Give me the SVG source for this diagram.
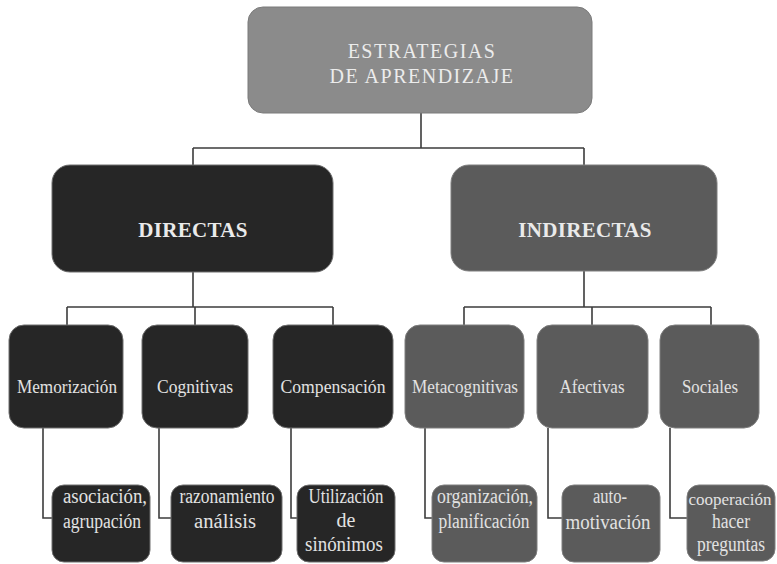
<svg xmlns="http://www.w3.org/2000/svg" width="777" height="564" viewBox="0 0 777 564">
<style>
.bg{fill:#ffffff}
.top{fill:#8b8b8b;stroke:#7a7a7a;stroke-width:1}
.dark{fill:#262626;stroke:#6e6e6e;stroke-width:1}
.mid{fill:#5b5b5b;stroke:#7e7e7e;stroke-width:1}
.conn{fill:none;stroke:#3c3c3c;stroke-width:1.6}
text{font-family:"Liberation Serif","Times New Roman",serif;text-anchor:middle}
.tt{font-size:20px;fill:#ececec;letter-spacing:1.5px}
.h2{font-size:21px;font-weight:bold;fill:#eaeaea;letter-spacing:0.3px}
.l2{font-size:18px;fill:#e2e2e2}
.l3{font-size:20px;fill:#e2e2e2}
</style>
<rect class="bg" x="0" y="0" width="777" height="564"/>
<g id="connectors">
<path class="conn" d="M421 113 V148 M193 148 H584 M193 148 V165 M584 148 V165"/>
<path class="conn" d="M193 272 V307 M67 307 H333 M67 307 V325 M195 307 V325 M333 307 V325"/>
<path class="conn" d="M584 271 V307 M464 307 H711 M464 307 V325 M592 307 V325 M711 307 V325"/>
<path class="conn" d="M43 428 V518 H52 M159 428 V518 H171 M291 428 V518 H297 M425 428 V518 H432 M548 428 V518 H562 M670 428 V518 H687"/>
</g>
<g id="estrategias">
<rect class="top" x="248" y="7" width="344" height="106" rx="15"/>
<text class="tt" x="422" y="58">ESTRATEGIAS</text>
<text class="tt" x="422" y="83">DE APRENDIZAJE</text>
</g>
<g id="directas">
<rect class="dark" x="52" y="165" width="281" height="107" rx="18"/>
<text class="h2" x="193" y="237">DIRECTAS</text>
</g>
<g id="indirectas">
<rect class="mid" x="451" y="165" width="266" height="106" rx="18"/>
<text class="h2" x="585" y="237">INDIRECTAS</text>
</g>
<g id="memorizacion">
<rect class="dark" x="9" y="325" width="114" height="103" rx="15"/>
<text class="l2" x="67" y="393" textLength="100" lengthAdjust="spacingAndGlyphs">Memorización</text>
</g>
<g id="cognitivas">
<rect class="dark" x="142" y="325" width="106" height="103" rx="15"/>
<text class="l2" x="195" y="393" textLength="76" lengthAdjust="spacingAndGlyphs">Cognitivas</text>
</g>
<g id="compensacion">
<rect class="dark" x="273" y="325" width="120" height="103" rx="15"/>
<text class="l2" x="333" y="393" textLength="105" lengthAdjust="spacingAndGlyphs">Compensación</text>
</g>
<g id="metacognitivas">
<rect class="mid" x="405" y="325" width="119" height="103" rx="15"/>
<text class="l2" x="465" y="393" textLength="106" lengthAdjust="spacingAndGlyphs">Metacognitivas</text>
</g>
<g id="afectivas">
<rect class="mid" x="537" y="325" width="111" height="103" rx="15"/>
<text class="l2" x="592" y="393" textLength="65" lengthAdjust="spacingAndGlyphs">Afectivas</text>
</g>
<g id="sociales">
<rect class="mid" x="660" y="325" width="99" height="103" rx="15"/>
<text class="l2" x="710" y="393" textLength="56" lengthAdjust="spacingAndGlyphs">Sociales</text>
</g>
<g id="asociacion">
<rect class="dark" x="52" y="485" width="98" height="77" rx="12"/>
<text class="l3" x="105" y="503" textLength="84" lengthAdjust="spacingAndGlyphs">asociación,</text>
<text class="l3" x="102" y="528" textLength="78" lengthAdjust="spacingAndGlyphs">agrupación</text>
</g>
<g id="razonamiento">
<rect class="dark" x="171" y="485" width="111" height="77" rx="12"/>
<text class="l3" x="227" y="503" textLength="95" lengthAdjust="spacingAndGlyphs">razonamiento</text>
<text class="l3" x="225" y="528" textLength="62" lengthAdjust="spacingAndGlyphs">análisis</text>
</g>
<g id="utilizacion">
<rect class="dark" x="297" y="485" width="98" height="77" rx="12"/>
<text class="l3" x="346" y="503" textLength="75" lengthAdjust="spacingAndGlyphs">Utilización</text>
<text class="l3" x="346" y="527">de</text>
<text class="l3" x="344" y="551" textLength="78" lengthAdjust="spacingAndGlyphs">sinónimos</text>
</g>
<g id="organizacion">
<rect class="mid" x="432" y="485" width="105" height="77" rx="12"/>
<text class="l3" x="485" y="503" textLength="96" lengthAdjust="spacingAndGlyphs">organización,</text>
<text class="l3" x="484" y="528" textLength="91" lengthAdjust="spacingAndGlyphs">planificación</text>
</g>
<g id="automotivacion">
<rect class="mid" x="562" y="485" width="98" height="77" rx="12"/>
<text class="l3" x="610" y="503" textLength="34" lengthAdjust="spacingAndGlyphs">auto-</text>
<text class="l3" x="608" y="529" textLength="85" lengthAdjust="spacingAndGlyphs">motivación</text>
</g>
<g id="cooperacion">
<rect class="mid" x="687" y="485" width="88" height="76" rx="12"/>
<text class="l3" x="730" y="505" style="font-size:17px">cooperación</text>
<text class="l3" x="731" y="528" textLength="38" lengthAdjust="spacingAndGlyphs">hacer</text>
<text class="l3" x="731" y="551" textLength="68" lengthAdjust="spacingAndGlyphs">preguntas</text>
</g>
</svg>
